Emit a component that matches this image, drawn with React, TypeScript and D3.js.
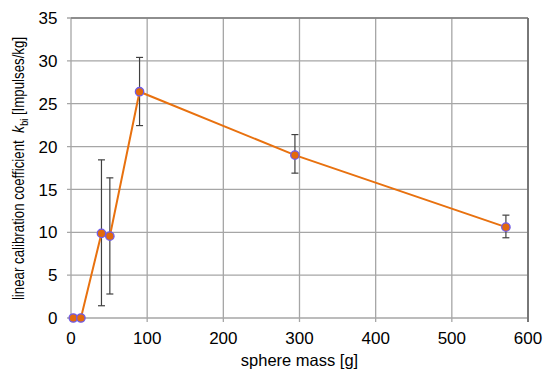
import React from "react";
import * as d3 from "d3";

const masses = [3, 13, 40, 51, 90, 294, 571];
const coeffs = [0, 0, 9.87, 9.55, 26.4, 19.0, 10.6];
const errLow = [0, 0, 1.43, 2.8, 22.45, 16.9, 9.36];
const errHigh = [0, 0, 18.45, 16.35, 30.4, 21.4, 12.0];
const xTicks = [0, 100, 200, 300, 400, 500, 600];
const yTicks = [0, 5, 10, 15, 20, 25, 30, 35];

const W = 544, H = 371;
const M = { left: 71, right: 528, top: 18, bottom: 318 };

export default function App() {
  const x = d3.scaleLinear().domain([0, 600]).range([M.left, M.right]);
  const y = d3.scaleLinear().domain([0, 35]).range([M.bottom, M.top]);
  const pts = masses.map((m, i) => ({ m, v: coeffs[i], lo: errLow[i], hi: errHigh[i] }));
  const line = d3.line<{ m: number; v: number }>().x(d => x(d.m)).y(d => y(d.v));
  const font = "Liberation Sans, Arial, sans-serif";
  return (
    <svg width={W} height={H} style={{ position: "absolute", left: 0, top: 0 }} fontFamily={font}>
      <rect width={W} height={H} fill="#fff" />
      {xTicks.map(t => (
        <line key={"gx" + t} x1={x(t)} x2={x(t)} y1={M.top} y2={M.bottom + 4} stroke="#a6a6a6" strokeWidth={1.3} />
      ))}
      {yTicks.map(t => (
        <line key={"gy" + t} x1={M.left - 4} x2={M.right} y1={y(t)} y2={y(t)} stroke="#a6a6a6" strokeWidth={1.3} />
      ))}
      <line x1={M.left} x2={M.right} y1={M.top} y2={M.top} stroke="#7f7f7f" strokeWidth={1.5} />
      <line x1={M.right} x2={M.right} y1={M.top} y2={M.bottom + 4} stroke="#6f6f6f" strokeWidth={1.8} />
      {yTicks.map(t => (
        <text key={"ty" + t} x={57.5} y={y(t)} dy="0.36em" textAnchor="end" fontSize={17} fill="#000">{t}</text>
      ))}
      {xTicks.map(t => (
        <text key={"tx" + t} x={x(t)} y={344} textAnchor="middle" fontSize={17} fill="#000">{t}</text>
      ))}
      <text x={(M.left + M.right) / 2} y={366} textAnchor="middle" fontSize={16.5} fill="#000">sphere mass [g]</text>
      <text transform={`translate(24,${(25 + 312) / 2}) rotate(-90) scale(0.83,1)`} textAnchor="middle" fontSize={16} fill="#000">
        linear calibration coefficient{"\u00a0\u00a0"}
        <tspan fontStyle="italic" fontSize={17}>k</tspan>
        <tspan fontSize={11} dy={4}>bi</tspan>
        <tspan dy={-4}>{" [Impulses/kg]"}</tspan>
      </text>
      {pts.filter(p => p.hi > p.lo).map((p, i) => (
        <g key={"e" + i} stroke="#404040" strokeWidth={1.2}>
          <line x1={x(p.m)} x2={x(p.m)} y1={y(p.lo)} y2={y(p.hi)} />
          <line x1={x(p.m) - 3.5} x2={x(p.m) + 3.5} y1={y(p.lo)} y2={y(p.lo)} />
          <line x1={x(p.m) - 3.5} x2={x(p.m) + 3.5} y1={y(p.hi)} y2={y(p.hi)} />
        </g>
      ))}
      <path d={line(pts) || ""} fill="none" stroke="#e8710f" strokeWidth={2} />
      {pts.map((p, i) => (
        <circle key={"c" + i} cx={x(p.m)} cy={y(p.v)} r={4.2} fill="#e3690c" stroke="#6f5be8" strokeWidth={1.3} />
      ))}
    </svg>
  );
}
